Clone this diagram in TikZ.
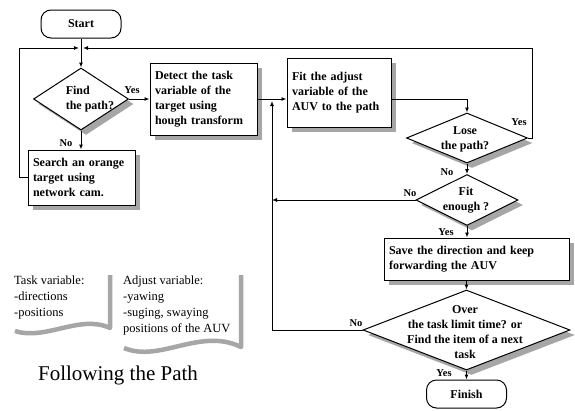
\documentclass[tikz,border=0pt]{standalone}
\usepackage{fontspec}
\setmainfont{Liberation Serif}
\usetikzlibrary{shapes.geometric,shadows,arrows.meta}
\begin{document}
\begin{tikzpicture}[x=1pt,y=-1pt,
  bfn/.style={font=\bfseries\fontsize{12}{15}\selectfont},
  shad/.style={drop shadow={shadow xshift=5pt,shadow yshift=-5pt,fill=black!35,opacity=1}},
  pbox/.style={draw,line width=1pt,fill=white,shad,bfn,align=left,inner xsep=5pt,inner ysep=0pt},
  term/.style={draw,line width=1pt,fill=white,rounded corners=10pt,bfn,minimum width=80pt},
  dec/.style={diamond,draw,line width=1pt,fill=white,shad,inner sep=0pt},
  dtext/.style={bfn,align=center,inner sep=0pt},
  lbl/.style={font=\bfseries\fontsize{10.5}{12}\selectfont,inner sep=0pt},
  arr/.style={line width=1pt,-{Latex[length=5pt,width=4pt]}},
  note/.style={font=\fontsize{12.5}{16}\selectfont,align=left,anchor=north west,inner sep=0pt},
  wave/.style={line width=4.5pt,black!35,line join=round}
]
\useasboundingbox (0,0) rectangle (575,410);
\fill[white] (0,0) rectangle (575,410);

% nodes
\node[term,minimum height=28pt] (start) at (81,24) {Start};
\node[dec,minimum width=95pt,minimum height=62pt] (find) at (81,99) {};
\node[dtext,align=left] (findt) at (90,99) {Find\\the path?};
\node[pbox,minimum width=107pt,minimum height=72pt,text width=97pt] (detect) at (203.5,99) {Detect the task\\variable of the\\target using\\hough transform};
\node[pbox,minimum width=107pt,minimum height=55pt,text width=97pt] (search) at (81.5,177.5) {Search an orange\\target using\\network cam.};
\node[pbox,minimum width=104pt,minimum height=69pt,text width=94pt] (fit) at (339,92.5) {Fit the adjust\\variable of the\\AUV to the path};
\node[dec,minimum width=121pt,minimum height=50pt] (lose) at (467,138) {};
\node[dtext] (loset) at (465,139) {Lose\\the path?};
\node[dec,minimum width=102pt,minimum height=51pt] (fitd) at (467,200) {};
\node[dtext] (fitdt) at (466,200) {Fit\\enough ?};
\node[pbox,minimum width=185pt,minimum height=42pt,text width=175pt] (save) at (476.5,259) {Save the direction and keep\\forwarding the AUV};
\node[dec,minimum width=207pt,minimum height=80pt] (over) at (466.5,330) {};
\node[dtext] (overt) at (465,332.5) {Over\\the task limit time? or\\Find the item of a next\\task};
\node[term,minimum height=28pt] (finish) at (466.5,394) {Finish};

% junction coordinates
\coordinate (mL) at (79,48);
\coordinate (mR) at (83,48);
\coordinate (lt) at (19,48);
\coordinate (rt) at (532,48);
\coordinate (jx) at (272,101);

% connectors
\draw[arr] (start.south) -- (find.north);
\draw[arr] (search.west) -| (lt) -- (mL);
\draw[arr] (lose.east) -| (rt) -- (mR);
\draw[arr] (find.east) -- (detect.west |- find.east);
\draw[arr] (find.south) -- (find.south |- search.north);
\draw[arr] (detect.east) -- (detect.east -| fit.west);
\draw[arr] (over.west) -| (jx);
\draw[arr] (fit.east |- detect.east) -| (lose.north);
\draw[arr] (lose.south) -- (fitd.north);
\draw[arr] (fitd.west) -- (fitd.west -| jx);
\draw[arr] (fitd.south) -- (fitd.south |- save.north);
\draw[arr] (over.north |- save.south) -- (over.north);
\draw[arr] (over.south) -- (finish.north);

% labels
\node[lbl] (l1) at (132,90) {Yes};
\node[lbl] (l2) at (66,143) {No};
\node[lbl] (l3) at (519,122) {Yes};
\node[lbl] (l4) at (447,172) {No};
\node[lbl] (l5) at (410,193) {No};
\node[lbl] (l6) at (446,232) {Yes};
\node[lbl] (l7) at (356,323) {No};
\node[lbl] (l8) at (444,373) {Yes};

% notes
\draw[wave] (15,331) .. controls (45,341) and (80,314) .. (110,328) -- (110,275);
\node[note] (tasknote) at (14,276) {Task variable:\\-directions\\-positions};
\draw[wave] (124,348) .. controls (160,363) and (200,327) .. (241,347) -- (241,275);
\node[note] (adjnote) at (123,276) {Adjust variable:\\-yawing\\-suging, swaying\\positions of the AUV};
\node[font=\fontsize{21}{24}\selectfont,inner sep=0pt] (title) at (118,375) {Following the Path};
\end{tikzpicture}
\end{document}
